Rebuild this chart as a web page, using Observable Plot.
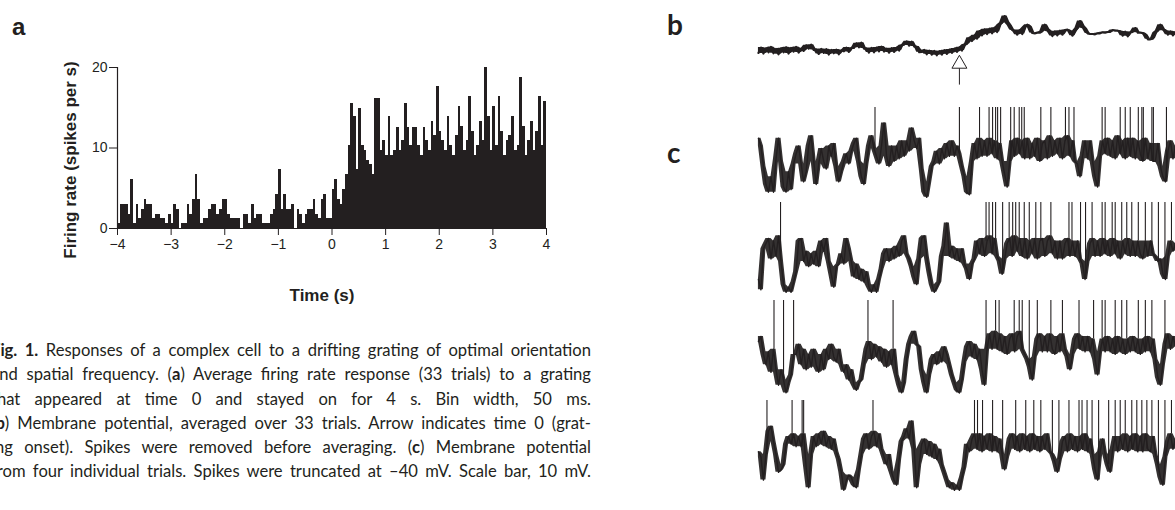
<!DOCTYPE html>
<html><head><meta charset="utf-8">
<script src="https://cdn.jsdelivr.net/npm/d3@7"></script>
<script src="https://cdn.jsdelivr.net/npm/@observablehq/plot@0.6"></script>
<style>
html,body{margin:0;padding:0;width:1175px;height:510px;overflow:hidden;background:#fff;color:#231f20;}
.abs{position:absolute;}
.plab{position:absolute;font-weight:bold;line-height:1;}
#caption{position:absolute;left:-9px;top:338px;width:600px;font-family:Lato,'Open Sans',sans-serif;font-size:16.6px;color:#231f20;}
#caption div{height:24.3px;line-height:24.3px;text-align:justify;text-align-last:justify;}
</style></head>
<body>
<div class="plab" style="left:12px;top:15px;font-family:'Liberation Sans',Arial,sans-serif;font-size:24px;">a</div>
<div class="plab" style="left:667px;top:10px;font-family:Lato,sans-serif;font-size:28px;">b</div>
<div class="plab" style="left:667px;top:138px;font-family:Lato,sans-serif;font-size:28px;">c</div>
<div id="hist" class="abs" style="left:0;top:0;"></div>
<div id="caption">
<div><b>Fig. 1.</b> Responses of a complex cell to a drifting grating of optimal orientation</div>
<div>and spatial frequency. (<b>a</b>) Average firing rate response (33 trials) to a grating</div>
<div>that appeared at time 0 and stayed on for 4 s. Bin width, 50 ms.</div>
<div>(<b>b</b>) Membrane potential, averaged over 33 trials. Arrow indicates time 0 (grat-</div>
<div>ing onset). Spikes were removed before averaging. (<b>c</b>) Membrane potential</div>
<div>from four individual trials. Spikes were truncated at –40 mV. Scale bar, 10 mV.</div>
</div>
<div id="tb" class="abs" style="left:740px;top:0;"></div>
<div id="tc1" class="abs" style="left:740px;top:105px;"></div>
<div id="tc2" class="abs" style="left:740px;top:200px;"></div>
<div id="tc3" class="abs" style="left:740px;top:298px;"></div>
<div id="tc4" class="abs" style="left:740px;top:398px;"></div>
<script>
// ---------- panel a: PSTH ----------
const binStart = -4;
const binWidth = 0.05;
const rates = [
0.6,3.0,3.0,3.0,1.8,6.1,0.6,3.0,1.2,2.4,
3.6,3.0,3.0,1.2,1.8,1.8,1.2,1.2,0.6,1.8,
0.6,3.0,2.4,0,0.6,0.6,3.0,1.8,3.6,6.7,
3.6,0.6,1.2,1.2,2.4,3.0,3.0,1.8,2.4,3.6,
3.6,1.8,1.2,1.2,1.2,1.2,0,1.8,1.8,0.6,
3.0,1.2,1.8,1.8,0.6,0.6,0.6,1.8,2.4,4.2,
7.3,2.4,4.2,2.4,2.4,3.0,0,2.4,1.8,0.6,
1.8,2.4,2.4,3.6,1.8,1.2,3.6,4.2,1.2,1.2,
4.8,6.1,3.6,3.0,4.8,6.7,10.3,15.5,13.9,7.3,
14.9,10.3,9.7,8.5,7.9,6.7,16.1,16.1,9.7,10.9,
9.1,13.9,9.1,9.7,12.6,9.7,10.9,15.5,12.6,10.3,
12.6,12.6,10.3,9.1,12.6,10.9,9.7,13.3,11.5,17.6,
12.1,10.9,9.7,13.9,10.3,9.1,11.5,15.2,12.7,9.7,
10.9,16.4,12.1,9.1,10.3,13.3,10.9,20.0,13.9,9.7,
15.2,10.3,16.4,12.1,9.1,10.9,11.5,13.9,9.7,10.3,
18.8,12.7,9.1,10.9,13.3,9.7,12.1,16.4,10.3,15.8
];
const timeTicks = [-4,-3,-2,-1,0,1,2,3,4];
const rateTicks = [0,10,20];
const xLabel = "Time (s)";
const yLabel = "Firing rate (spikes per s)";

const bins = rates.map((r, i) => ({x1: binStart + i*binWidth, x2: binStart + (i+1)*binWidth, rate: r}));
const ink = "#231f20";

const hist = Plot.plot({
  width: 600, height: 310,
  marginLeft: 117, marginRight: 54, marginTop: 67, marginBottom: 82,
  x: {domain: [timeTicks[0], timeTicks[timeTicks.length-1]]},
  y: {domain: [rateTicks[0], rateTicks[rateTicks.length-1]]},
  style: {fontFamily: "'Liberation Sans', Arial, sans-serif", fontSize: "14px", color: ink, background: "transparent", overflow: "visible"},
  marks: [
    Plot.rectY(bins, {x1: "x1", x2: "x2", y: "rate", fill: ink, shapeRendering: "crispEdges"}),
    Plot.ruleY([rateTicks[0]], {stroke: ink, strokeWidth: 1}),
    Plot.ruleX([timeTicks[0]], {stroke: ink, strokeWidth: 1.2}),
    Plot.axisX({ticks: timeTicks, tickSize: 7, tickPadding: 4, label: null, stroke: ink}),
    Plot.axisY({ticks: rateTicks, tickSize: 8, tickPadding: 2, label: null, stroke: ink}),
    Plot.text([xLabel], {frameAnchor: "bottom", lineAnchor: "middle", textAnchor: "middle", dy: 67, dx: -10, fontWeight: "bold", fontSize: 17, fill: ink}),
    Plot.text([yLabel], {frameAnchor: "left", lineAnchor: "middle", textAnchor: "middle", rotate: -90, dx: -47, dy: 12, fontWeight: "bold", fontSize: 17, fill: ink})
  ]
});
document.getElementById("hist").appendChild(hist);

// ---------- panels b, c: membrane potential traces ----------
const traceStart = -4;
const traceStep = 0.05;
const arrowTime = 0;
const spikeCap = -40;

const traceB = [
-66.8,-65.2,-67.0,-65.4,-66.6,-65.0,-66.9,-65.6,-67.2,-65.4,
-66.6,-65.1,-67.0,-65.3,-66.4,-65.0,-66.7,-65.5,-66.2,-64.5,
-65.5,-64.3,-65.9,-65.7,-67.1,-65.6,-66.8,-65.7,-67.3,-65.9,
-66.9,-65.8,-67.2,-66.0,-66.3,-65.2,-66.5,-65.3,-65.3,-63.9,
-65.1,-63.7,-65.5,-65.4,-66.7,-65.3,-66.6,-65.2,-66.3,-64.9,
-66.4,-65.5,-66.7,-65.4,-66.5,-65.2,-66.1,-64.5,-64.3,-63.3,
-64.6,-63.4,-64.9,-64.9,-66.6,-66.5,-65.9,-67.2,-66.1,-67.3,
-66.2,-67.5,-66.3,-67.3,-66.0,-67.1,-65.8,-66.8,-65.5,-66.5,
-65.1,-66.1,-64.3,-64.1,-62.2,-63.2,-61.5,-62.5,-60.2,-61.5,
-59.7,-61.1,-59.5,-60.9,-59.2,-60.5,-58.3,-57.7,-55.7,-57.5,
-58.5,-59.9,-60.1,-61.3,-59.9,-61.1,-59.1,-58.3,-58.9,-60.8,
-60.9,-60.7,-60.7,-60.3,-58.3,-59.7,-60.5,-61.7,-60.3,-61.5,
-60.1,-61.3,-59.9,-59.8,-60.3,-61.6,-60.2,-59.3,-57.2,-58.7,
-59.5,-60.9,-61.1,-61.1,-61.2,-60.9,-60.9,-60.6,-60.7,-60.5,
-60.5,-59.9,-60.1,-60.1,-60.3,-61.6,-60.4,-61.8,-60.6,-60.5,
-59.3,-60.7,-60.7,-60.8,-61.3,-62.7,-62.7,-62.5,-60.7,-60.1,
-58.3,-59.7,-60.1,-61.3,-60.3,-61.5,-60.5
];

const traceC1 = [
-52,-55,-63,-70,-73,-67,-73,-60,-52,-61,
-71,-73,-65,-72,-62,-58,-55,-62,-69,-65,
-55,-51,-61,-70,-62,-56,-61,-64,-55,-59,
-54,-63,-69,-65,-61,-58,-62,-57,-54,-52,
-61,-67,-70,-62,-55,-51,-56,-59,-62,-55,
-46,-59,-63,-55,-61,-55,-60,-53,-59,-53,
-57,-48,-53,-56,-52,-64,-73,-75,-69,-63,
-61,-57,-62,-56,-60,-54,-59,-53,-59,-55,
-58,-63,-67,-73,-74,-61,-54,-60,-52,-59,
-53,-59,-52,-58,-53,-60,-54,-61,-66,-71,
-61,-53,-59,-52,-58,-53,-60,-52,-60,-54,
-59,-52,-61,-54,-53,-60,-51,-59,-53,-58,
-52,-60,-53,-51,-59,-53,-61,-62,-67,-59,
-53,-60,-53,-61,-67,-71,-59,-53,-58,-52,
-59,-53,-60,-51,-58,-53,-60,-52,-59,-52,
-60,-53,-58,-61,-52,-60,-54,-61,-61,-54,
-63,-67,-69,-57,-53,-60,-55
];
const spikesC1 = [-1.68,0.0,0.40,0.59,0.66,0.72,0.76,0.82,1.02,1.09,1.19,1.24,1.29,1.62,1.82,2.11,2.18,2.28,2.84,2.90,3.20,3.30,3.40,3.56,3.63,3.66,3.83,3.86,4.12];

const traceC2 = [
-70,-74,-58,-56,-54,-62,-55,-61,-53,-63,
-72,-75,-73,-75,-71,-67,-55,-54,-63,-59,
-65,-60,-64,-59,-65,-55,-59,-54,-63,-68,
-73,-65,-64,-60,-64,-54,-58,-63,-69,-64,
-70,-66,-71,-67,-73,-75,-72,-75,-70,-66,
-60,-58,-63,-58,-62,-57,-61,-55,-53,-60,
-62,-65,-69,-72,-62,-54,-53,-61,-67,-72,
-75,-73,-71,-61,-57,-48,-61,-57,-62,-58,
-63,-58,-64,-66,-70,-64,-62,-55,-60,-54,
-61,-55,-53,-60,-54,-61,-63,-68,-62,-56,
-54,-61,-53,-59,-54,-61,-54,-62,-55,-60,
-54,-62,-55,-54,-61,-55,-53,-60,-55,-62,
-55,-62,-56,-54,-61,-55,-61,-55,-62,-64,
-70,-63,-56,-54,-61,-55,-61,-54,-60,-55,
-61,-54,-60,-55,-62,-55,-60,-54,-61,-55,
-61,-55,-60,-62,-55,-61,-55,-60,-61,-63,
-62,-68,-70,-61,-55,-59,-56
];
const spikesC2 = [-3.56,0.53,0.59,0.66,0.72,0.86,0.99,1.06,1.12,1.19,1.29,1.39,1.52,1.62,1.82,2.18,2.24,2.41,2.51,2.64,2.84,2.90,3.04,3.10,3.23,3.33,3.43,3.56,3.70,3.83,3.96,4.09,4.22];

const traceC3 = [
-56,-54,-61,-65,-60,-68,-59,-67,-73,-67,
-71,-76,-72,-69,-61,-61,-57,-65,-59,-67,
-61,-66,-59,-65,-68,-61,-67,-59,-63,-57,
-62,-64,-59,-65,-68,-65,-71,-67,-73,-75,
-72,-71,-65,-59,-56,-63,-57,-62,-58,-64,
-59,-66,-60,-65,-59,-69,-73,-76,-72,-63,
-57,-54,-52,-57,-58,-67,-72,-76,-69,-63,
-61,-65,-60,-64,-58,-61,-65,-69,-72,-75,
-76,-71,-64,-58,-56,-62,-57,-63,-59,-67,
-73,-59,-53,-59,-52,-59,-53,-60,-54,-61,
-55,-53,-60,-54,-52,-59,-61,-63,-66,-71,
-62,-55,-53,-60,-54,-60,-53,-59,-61,-54,
-60,-53,-59,-62,-67,-61,-55,-53,-59,-54,
-60,-54,-60,-55,-63,-69,-60,-55,-60,-54,
-60,-55,-61,-54,-60,-55,-61,-55,-60,-54,
-60,-55,-61,-55,-60,-54,-60,-55,-63,-70,
-73,-65,-57,-53,-59,-54,-58
];
const spikesC3 = [-3.69,-3.50,-3.30,-1.82,-1.32,0.53,0.72,0.79,1.09,1.19,1.25,1.39,1.55,1.82,2.05,2.38,2.67,2.84,2.90,3.10,3.23,3.33,3.56,3.70,3.83,4.09];

const traceC4 = [
-60,-62,-71,-61,-52,-50,-56,-61,-68,-67,
-65,-57,-54,-57,-53,-58,-54,-58,-53,-66,
-74,-61,-54,-58,-53,-57,-52,-58,-54,-59,
-55,-60,-63,-68,-75,-71,-69,-70,-73,-74,
-67,-61,-55,-53,-59,-54,-52,-58,-53,-59,
-62,-65,-61,-68,-71,-73,-63,-56,-54,-51,
-55,-48,-59,-74,-65,-57,-55,-61,-56,-62,
-57,-63,-59,-65,-68,-71,-74,-72,-75,-73,
-75,-70,-66,-57,-60,-55,-53,-59,-53,-60,
-54,-59,-53,-60,-54,-60,-55,-61,-67,-62,
-55,-53,-59,-54,-60,-53,-59,-54,-60,-53,
-59,-54,-60,-54,-59,-53,-60,-61,-64,-68,
-63,-56,-54,-60,-53,-59,-54,-60,-54,-59,
-53,-60,-55,-61,-67,-71,-60,-55,-61,-65,
-68,-59,-54,-60,-54,-59,-53,-60,-54,-59,
-53,-60,-54,-60,-53,-59,-60,-54,-61,-65,
-70,-73,-62,-56,-53,-59,-55
];
const spikesC4 = [-3.83,-3.33,-3.13,-3.10,-1.72,0.30,0.36,0.46,0.66,0.86,1.12,1.32,1.48,1.62,1.85,1.98,2.18,2.38,2.44,2.54,2.64,2.77,2.97,3.10,3.20,3.30,3.43,3.53,3.63,3.73,3.83,3.96,4.09,4.22];

const tEnd = traceStart + (traceB.length - 1) * traceStep;
// each sample with the min/max of its immediate neighbours (noisy-band envelope)
const toPoints = (vals, k) => vals.map((v, i) => {
  const w = vals.slice(Math.max(0, i - k), Math.min(vals.length, i + k + 1));
  return {t: traceStart + i*traceStep, v, lo: d3.min(w), hi: d3.max(w)};
});
const valueAt = (vals, t) => vals[Math.max(0, Math.min(vals.length-1, Math.round((t - traceStart)/traceStep)))];

const xOpts = {domain: [traceStart, tEnd]};
const common = {width: 437, marginLeft: 18, marginRight: 0, axis: null,
  style: {background: "transparent", overflow: "visible"}};

const band = (pts, w, op) => [
  Plot.areaY(pts, {x: "t", y1: "lo", y2: "hi", fill: ink, fillOpacity: op}),
  Plot.line(pts, {x: "t", y: "v", stroke: ink, strokeWidth: w, strokeLinejoin: "round"})
];

// panel b
const plotB = Plot.plot({
  ...common, height: 90, marginTop: 0, marginBottom: 0,
  y: {domain: [-78, -51], axis: null},
  x: {...xOpts, axis: null},
  marks: [
    ...band(toPoints(traceB, 1), 2.2, 1),
    Plot.ruleX([arrowTime], {stroke: ink, strokeWidth: 1, insetTop: 68, insetBottom: 5}),
    Plot.dot([arrowTime], {x: d => d, frameAnchor: "top", dy: 63.7, symbol: "triangle", r: 5.57, stroke: ink, fill: "white", strokeWidth: 1})
  ]
});
document.getElementById("tb").appendChild(plotB);

function cPlot(vals, spikes) {
  const pts = toPoints(vals, 1);
  return Plot.plot({
    ...common, height: 102, marginTop: 2, marginBottom: 2,
    y: {domain: [-78, spikeCap], axis: null},
    x: {...xOpts, axis: null},
    marks: [
      ...band(pts, 1.4, 0.92),
      Plot.ruleX(spikes, {x: d => d, y1: d => valueAt(vals, d), y2: spikeCap, stroke: ink, strokeWidth: 1.1})
    ]
  });
}
document.getElementById("tc1").appendChild(cPlot(traceC1, spikesC1));
document.getElementById("tc2").appendChild(cPlot(traceC2, spikesC2));
document.getElementById("tc3").appendChild(cPlot(traceC3, spikesC3));
document.getElementById("tc4").appendChild(cPlot(traceC4, spikesC4));
</script>
</body></html>
